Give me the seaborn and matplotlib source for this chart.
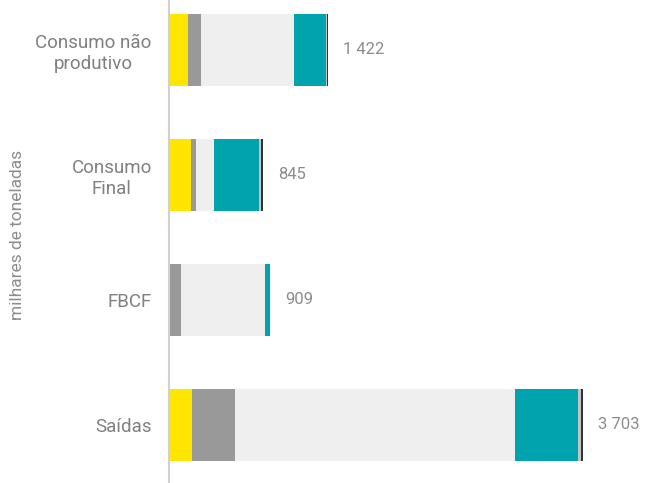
import numpy as np
import pandas as pd
import seaborn as sns
import matplotlib.pyplot as plt

# categorias e componentes (milhares de toneladas)
categorias = ['Consumo não\nprodutivo', 'Consumo\nFinal', 'FBCF', 'Saídas']
comp1 = [178, 202, 0, 208]
comp2 = [116, 41, 110, 390]
comp3 = [828, 161, 752, 2492]
comp4 = [280, 405, 45, 565]
comp5 = [14, 21, 2, 30]
comp6 = [6, 15, 0, 18]
totais = [1422, 845, 909, 3703]
rotulos = ['1 422', '845', '909', '3 703']

cores = ['#FFE600', '#999999', '#EFEFEF', '#00A3AE', '#C4C4C4', '#333333']

sns.set_style("white")
plt.rcParams['font.family'] = ['Roboto', 'DejaVu Sans']

comps = [comp1, comp2, comp3, comp4, comp5, comp6]
acum = np.cumsum(np.array(comps), axis=0)

fig = plt.figure(figsize=(6.46, 4.83), dpi=100)
ax = fig.add_axes([168.5 / 646, 0, 1 - 168.5 / 646, 1])

# desenhar do maior acumulado para o menor (barras sobrepostas)
for i in range(len(comps) - 1, -1, -1):
    df = pd.DataFrame({'cat': categorias, 'val': acum[i]})
    sns.barplot(data=df, x='val', y='cat', color=cores[i], orient='h',
                width=0.57, linewidth=0, saturation=1, ax=ax)

for y, (t, r) in enumerate(zip(totais, rotulos)):
    ax.text(t + 135, y, r, va='center', ha='left', fontsize=12, color='#8C8C8C')

ax.set_xlim(0, 4264)
ax.set_ylim(3.464, -0.4)
ax.set_xticks([])
ax.set_xlabel('')
ax.set_ylabel('milhares de toneladas', fontsize=12.5, color='#8C8C8C')
ax.yaxis.set_label_coords(-0.30, 0.513)
ax.tick_params(axis='y', length=0, labelsize=13.5, labelcolor='#808080', pad=12)
for lbl in ax.get_yticklabels():
    lbl.set_multialignment('center')
    lbl.set_linespacing(1.25)
for s in ['top', 'right', 'bottom']:
    ax.spines[s].set_visible(False)
ax.spines['left'].set_color('#D0D0D0')
ax.spines['left'].set_linewidth(1.5)

fig.savefig('out.png', dpi=100)
